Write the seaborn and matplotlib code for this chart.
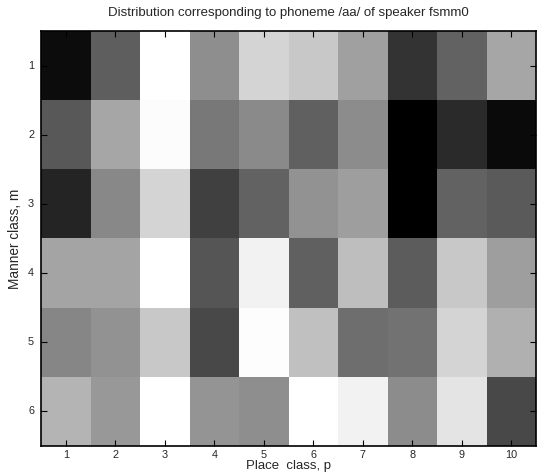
import numpy as np
import pandas as pd
import seaborn as sns
import matplotlib
matplotlib.use("Agg")
import matplotlib.pyplot as plt

place_labels = ["1", "2", "3", "4", "5", "6", "7", "8", "9", "10"]
manner_labels = ["1", "2", "3", "4", "5", "6"]

row1 = [12, 94, 255, 142, 212, 200, 160, 51, 98, 166]
row2 = [88, 166, 252, 120, 138, 96, 140, 0, 42, 10]
row3 = [36, 136, 212, 64, 98, 146, 158, 0, 98, 90]
row4 = [164, 164, 255, 85, 242, 96, 190, 92, 200, 158]
row5 = [134, 146, 200, 72, 253, 192, 110, 114, 212, 176]
row6 = [180, 152, 255, 148, 142, 255, 242, 140, 228, 72]

data = pd.DataFrame(np.array([row1, row2, row3, row4, row5, row6]) / 255.0,
                    index=manner_labels, columns=place_labels)

sns.set_style("white")
plt.rcParams['font.family'] = ['Liberation Sans', 'DejaVu Sans']

fig = plt.figure(figsize=(5.6, 4.75), dpi=100)
ax = fig.add_axes([41/560, 29/475, 495/560, 415/475])
sns.heatmap(data, ax=ax, cmap="gray", vmin=0, vmax=1, cbar=False,
            square=False, linewidths=0)
ax.set_axisbelow(False)

ax.set_title("Distribution corresponding to phoneme /aa/ of speaker fsmm0",
             fontsize=9.5, pad=11)
ax.set_xlabel("Place  class, p", fontsize=9.5, labelpad=0)
ax.set_ylabel("Manner class, m", fontsize=9.8, labelpad=4)
ax.tick_params(axis='both', direction='in', length=4, width=0.8,
               labelsize=7.8, bottom=True, left=True, top=True, right=True,
               color='black')
ax.tick_params(axis='x', pad=3)
ax.tick_params(axis='y', pad=5)
plt.setp(ax.get_yticklabels(), rotation=0)
plt.setp(ax.get_xticklabels(), rotation=0)
for s in ax.spines.values():
    s.set_visible(True)
    s.set_color('black')
    s.set_linewidth(1.2)
    s.set_zorder(3)

fig.savefig("out.png", dpi=100)
